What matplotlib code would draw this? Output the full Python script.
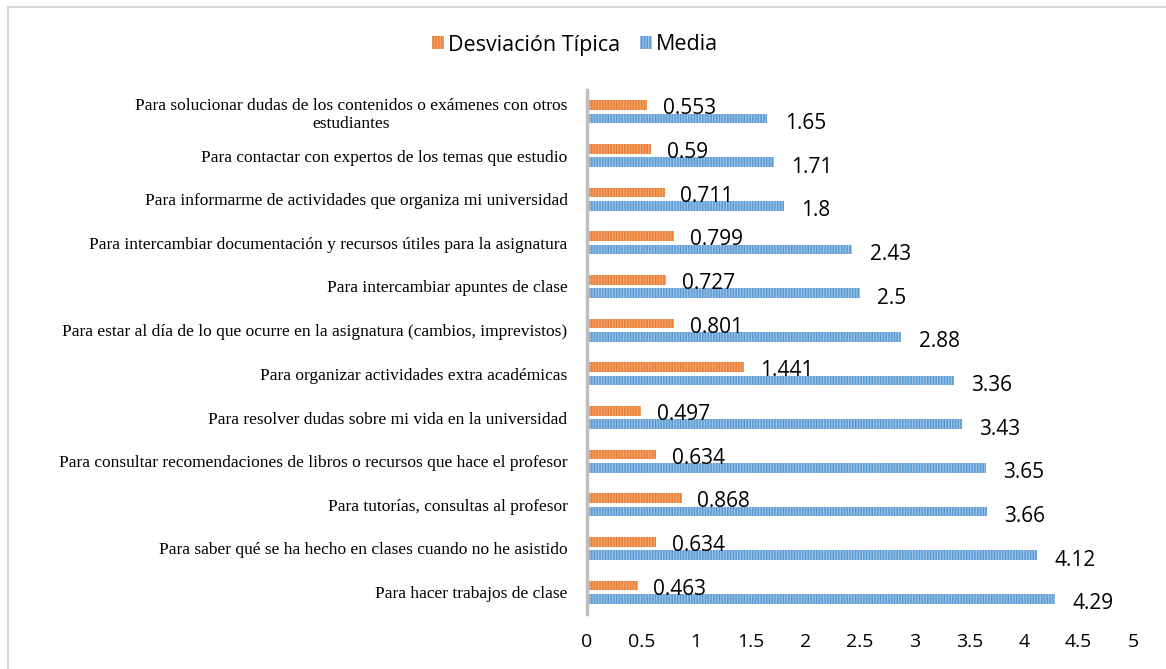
import numpy as np
import matplotlib.pyplot as plt
from matplotlib.patches import Rectangle

# categorías de arriba a abajo
categorias = [
    "Para solucionar dudas de los contenidos o exámenes con otros\nestudiantes",
    "Para contactar con expertos de los temas que estudio",
    "Para informarme de actividades que organiza mi universidad",
    "Para intercambiar documentación y recursos útiles para la asignatura",
    "Para intercambiar apuntes de clase",
    "Para estar al día de lo que ocurre en la asignatura (cambios, imprevistos)",
    "Para organizar actividades extra académicas",
    "Para resolver dudas sobre mi vida en la universidad",
    "Para consultar recomendaciones de libros o recursos que hace el profesor",
    "Para tutorías, consultas al profesor",
    "Para saber qué se ha hecho en clases cuando no he asistido",
    "Para hacer trabajos de clase",
]
desviacion = [0.553, 0.59, 0.711, 0.799, 0.727, 0.801, 1.441, 0.497, 0.634, 0.868, 0.634, 0.463]
media = [1.65, 1.71, 1.8, 2.43, 2.5, 2.88, 3.36, 3.43, 3.65, 3.66, 4.12, 4.29]
ticks_x = [0, 0.5, 1, 1.5, 2, 2.5, 3, 3.5, 4, 4.5, 5]

naranja = "#ED7D31"
azul = "#5B9BD5"

fig = plt.figure(figsize=(11.66, 6.69), dpi=100)
ax = fig.add_axes([587 / 1166, 1 - 614 / 669, 546 / 1166, 524 / 669])

y = np.arange(len(categorias))
plt.rcParams["hatch.linewidth"] = 0.9
b1 = ax.barh(y - 0.15, desviacion, height=0.22, color=naranja, edgecolor="#F3A877",
             hatch="||||||", linewidth=0, label="Desviación Típica")
b2 = ax.barh(y + 0.15, media, height=0.22, color=azul, edgecolor="#9CC3E6",
             hatch="||||||", linewidth=0, label="Media")

for yi, v in zip(y, desviacion):
    ax.text(v + 0.14, yi - 0.07, f"{v:g}", va="center", ha="left",
            fontsize=15, family="Open Sans", color="black")
for yi, v in zip(y, media):
    ax.text(v + 0.16, yi + 0.27, f"{v:g}", va="center", ha="left",
            fontsize=15, family="Open Sans", color="black")

ax.set_ylim(len(categorias) - 0.5, -0.5)
ax.set_xlim(0, 5)
ax.set_yticks(y)
ax.set_yticklabels(categorias, family="Liberation Serif", fontsize=12.5,
                   multialignment="center")
ax.set_xticks(ticks_x)
ax.set_xticklabels([f"{t:g}" for t in ticks_x], family="Open Sans", fontsize=14)
ax.tick_params(axis="y", length=0, pad=14)
ax.tick_params(axis="x", length=0, pad=14)

for s in ["top", "right", "bottom"]:
    ax.spines[s].set_visible(False)
ax.spines["left"].set_color("#BFBFBF")
ax.spines["left"].set_linewidth(2.5)

ax.legend(handles=[b1, b2], loc="center", bbox_to_anchor=(575 / 1166, 1 - 45 / 669),
          bbox_transform=fig.transFigure, ncol=2, frameon=False,
          prop={"family": "Open Sans", "size": 15.5}, handlelength=0.55,
          handleheight=0.55, handletextpad=0.2, columnspacing=0.9)

# marco del gráfico
fig.patches.append(Rectangle((8 / 1166, -0.1), 1.2, 1 - 7 / 669 + 0.1,
                             transform=fig.transFigure, fill=False,
                             edgecolor="#D9D9D9", linewidth=1.5))

fig.savefig("out.png", dpi=100)
